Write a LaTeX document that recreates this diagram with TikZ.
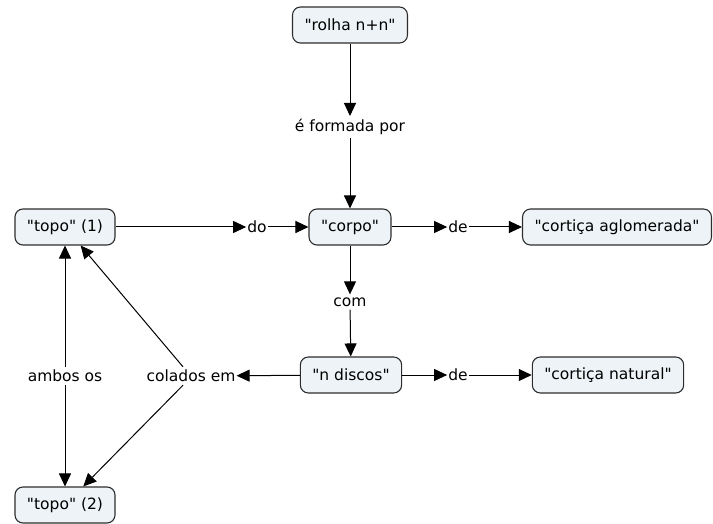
\documentclass[tikz,border=0pt]{standalone}
\usepackage{fontspec}
\setmainfont{DejaVu Sans}[Ligatures=TeXReset]
\usetikzlibrary{arrows.meta}
\definecolor{conceptfill}{RGB}{237,243,246}
\definecolor{conceptline}{RGB}{45,45,45}
\tikzset{x=1pt, y=-1pt, % pixel-like units, y pointing down
concept/.style={ % Sets the properties for each concept box
draw=conceptline,
fill=conceptfill,
rounded corners=8pt,
line width=1.1pt,
inner xsep=12pt,
minimum height=36pt},
link/.style={ % Sets the properties for each linking phrase
fill=white,
inner xsep=1pt,
inner ysep=3pt},
>={Triangle[length=13pt,width=12pt]}, % Filled arrow heads
every edge/.style={ % Sets the properties for each connector
draw,
->,
line width=1pt}}

\begin{document}
\begin{tikzpicture}[font=\fontsize{15.5}{18}\selectfont]
				\useasboundingbox (0,0) rectangle (713,524);

				\node[concept] (rolha) at (350,25) {"rolha n+n"};
				\node[concept] (corpo) at (350,227) {"corpo"};
				\node[concept] (topoa) at (65,227) {"topo" (1)};
				\node[concept] (aglom) at (617,227) {"cortiça aglomerada"};
				\node[concept] (discos) at (351,375) {"n discos"};
				\node[concept] (natural) at (608,375) {"cortiça natural"};
				\node[concept] (topob) at (65,505) {"topo" (2)};

				\node[link] (formada) at (350,127) {é formada por};
				\node[link] (do) at (257,227) {do};
				\node[link] (dea) at (458,227) {de};
				\node[link] (com) at (350,302) {com};
				\node[link] (deb) at (458,375) {de};
				\node[link] (colados) at (191,376) {colados em};
				\node[link] (ambos) at (65,376) {ambos os};

				\draw (rolha) edge (formada);
				\draw (formada) edge (corpo);
				\draw (topoa) edge (do);
				\draw (do) edge (corpo);
				\draw (corpo) edge (dea);
				\draw (dea) edge (aglom);
				\draw (corpo) edge (com);
				\draw (com) edge (discos);
				\draw (discos) edge (deb);
				\draw (deb) edge (natural);
				\draw (discos) edge (colados);
				\draw ([xshift=-8pt]colados.north) edge (topoa);
				\draw ([xshift=-8pt]colados.south) edge (topob);
				\draw (ambos) edge (topoa);
				\draw (ambos) edge (topob);
			\end{tikzpicture}
\end{document}
